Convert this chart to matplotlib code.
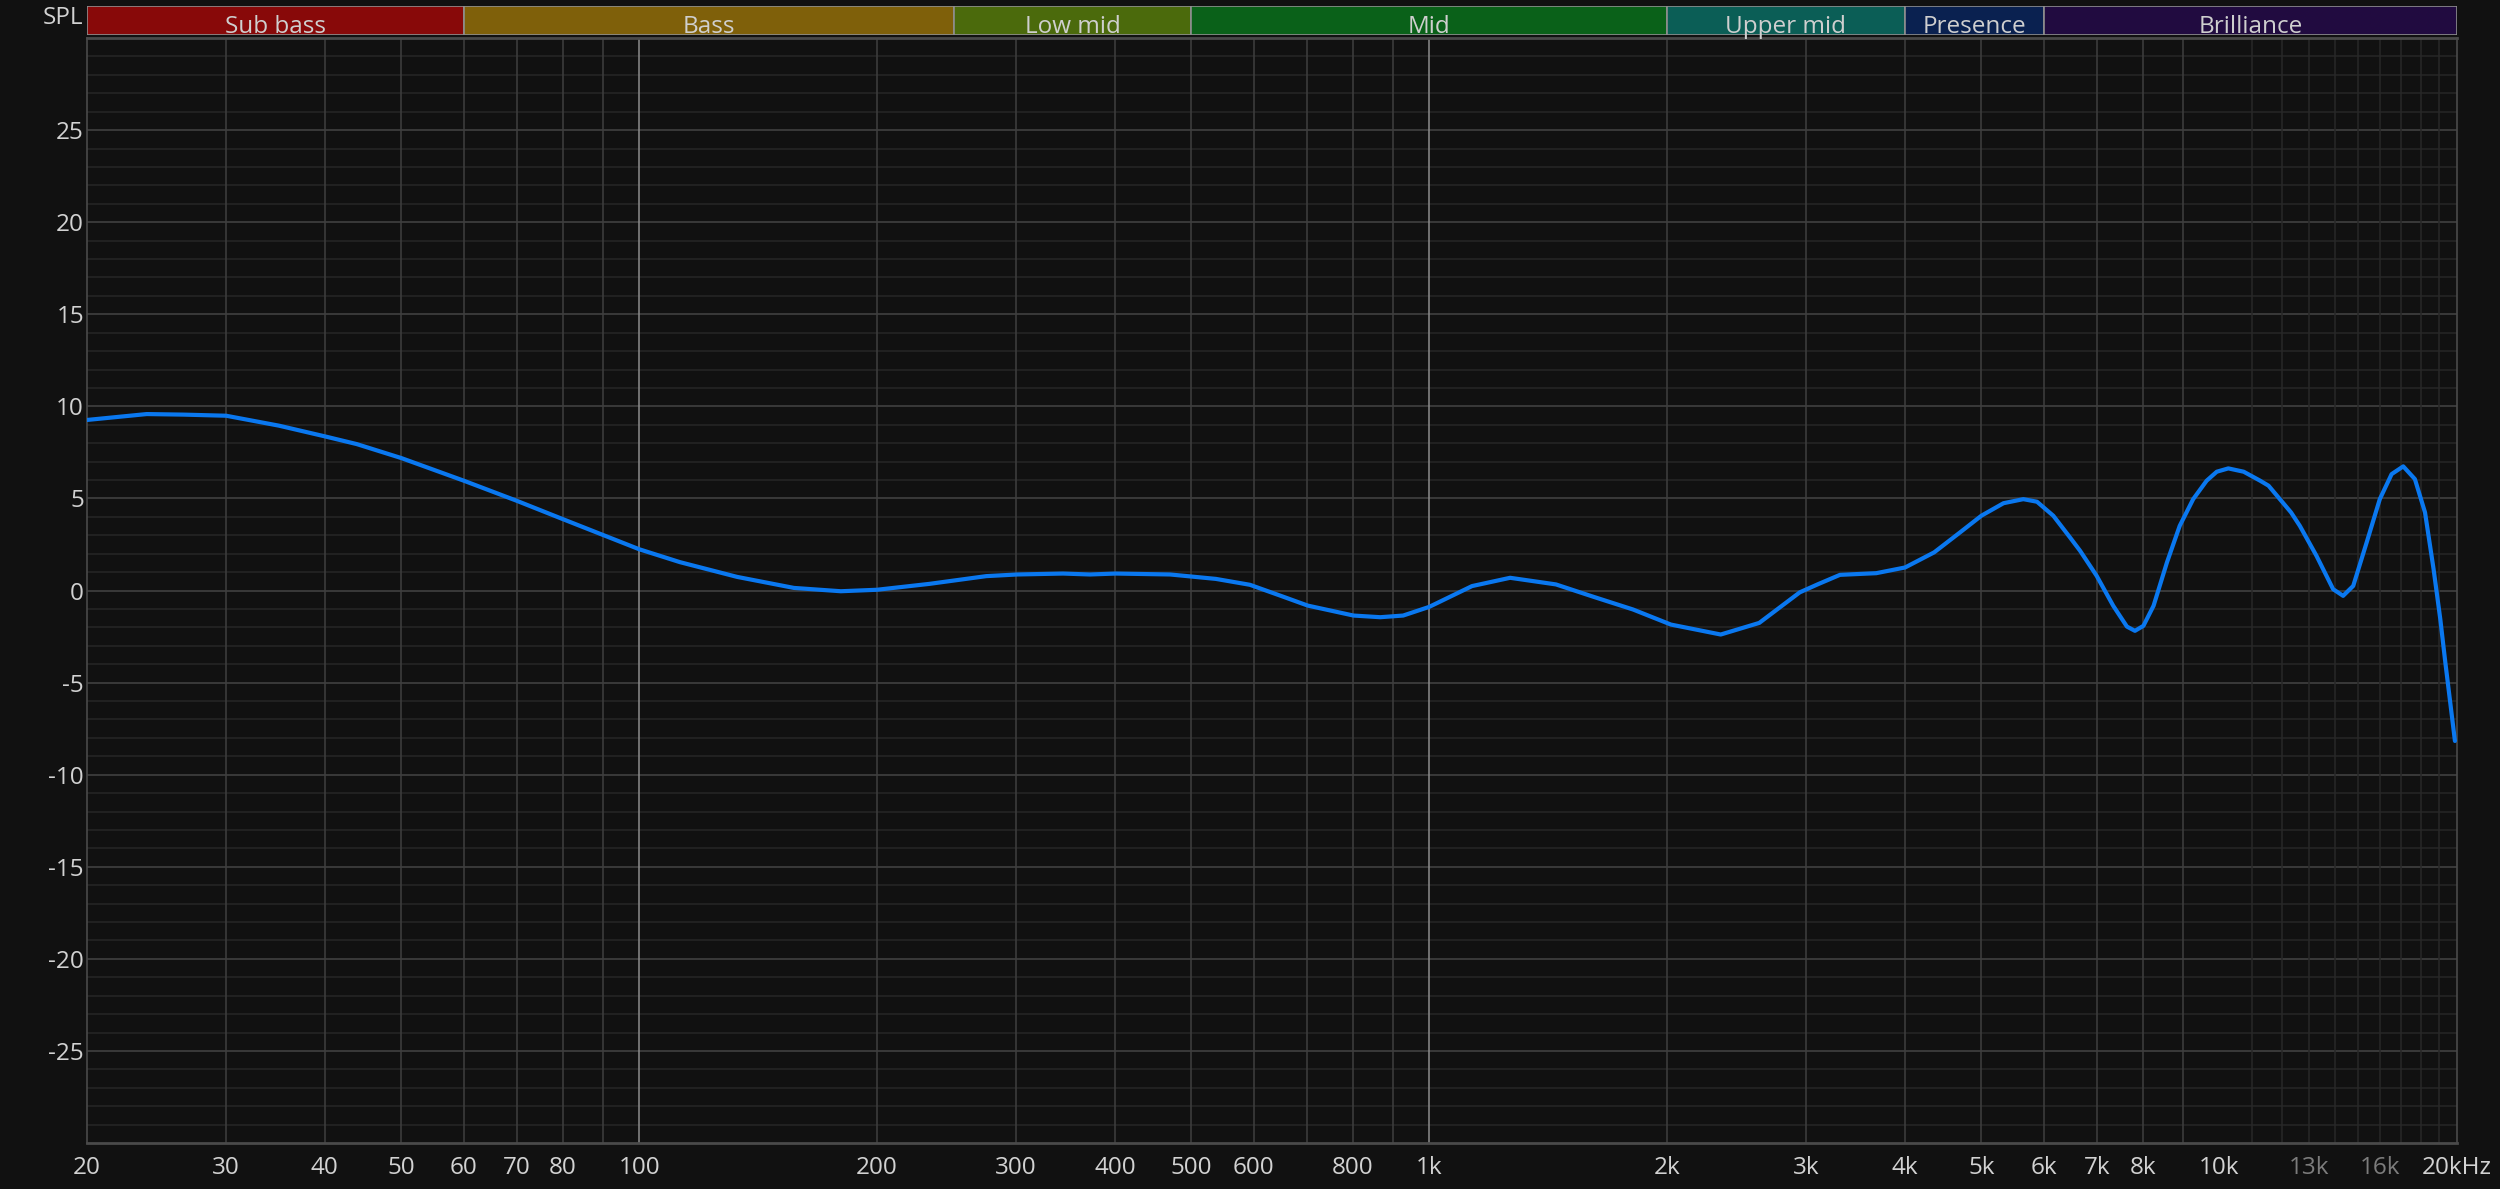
import matplotlib
matplotlib.use("Agg")
import matplotlib.pyplot as plt
import numpy as np

# ---------------- data ----------------
freq_hz = [20, 23.8, 26.5, 30, 35, 40, 43.9, 50, 60, 70, 80, 100, 112.6, 133, 157, 180,
           200, 233, 275, 301, 344, 372, 401, 470, 537, 593, 647, 702, 802, 867, 927,
           1000, 1133, 1266, 1447, 1619, 1811, 2023, 2339, 2617, 2945, 3105, 3311,
           3680, 4003, 4357, 4697, 5000, 5333, 5650, 5880, 6166, 6474, 6666, 6996,
           7343, 7642, 7823, 8018, 8259, 8587, 8913, 9270, 9640, 9930, 10270, 10740,
           11270, 11548, 12330, 12650, 13280, 13940, 14350, 14780, 15370, 15970,
           16530, 17100, 17690, 18220, 18680, 19050, 19330, 19880]
spl_db = [9.26, 9.58, 9.55, 9.49, 8.95, 8.37, 7.95, 7.19, 5.96, 4.87, 3.88, 2.24, 1.54,
          0.74, 0.14, -0.04, 0.04, 0.36, 0.78, 0.87, 0.92, 0.87, 0.92, 0.87, 0.63,
          0.31, -0.27, -0.82, -1.36, -1.45, -1.36, -0.89, 0.24, 0.69, 0.33, -0.36,
          -1.03, -1.85, -2.39, -1.76, -0.10, 0.34, 0.85, 0.94, 1.25, 2.07, 3.15, 4.06,
          4.74, 4.96, 4.82, 4.06, 2.88, 2.16, 0.80, -0.83, -1.96, -2.19, -1.92, -0.83,
          1.52, 3.51, 4.96, 5.96, 6.45, 6.63, 6.45, 5.96, 5.69, 4.24, 3.51, 1.88, 0.07,
          -0.29, 0.25, 2.61, 4.96, 6.32, 6.74, 6.05, 4.24, 1.16, -1.56, -3.90, -8.17]

band_names = ["Sub bass", "Bass", "Low mid", "Mid", "Upper mid", "Presence", "Brilliance"]
band_edges = [20, 60, 250, 500, 2000, 4000, 6000, 20000]
band_colors = ["#880909", "#7f600a", "#4b6a0c", "#0a6119", "#0b5e56", "#0a2150", "#210b40"]

xtick_vals = [20, 30, 40, 50, 60, 70, 80, 100, 200, 300, 400, 500, 600, 800,
              1000, 2000, 3000, 4000, 5000, 6000, 7000, 8000, 10000, 13000, 16000, 20000]
xtick_labels = ["20", "30", "40", "50", "60", "70", "80", "100", "200", "300", "400",
                "500", "600", "800", "1k", "2k", "3k", "4k", "5k", "6k", "7k", "8k",
                "10k", "13k", "16k", "20kHz"]
dim_labels = ["13k", "16k"]
ytick_vals = [-25, -20, -15, -10, -5, 0, 5, 10, 15, 20, 25]

# ---------------- style ----------------
BG = "#111111"
TXT = "#d2d2d2"
FONT = ["Open Sans", "DejaVu Sans"]
FS = 17.5
plt.rcParams["font.family"] = FONT

W, H = 2500, 1189
fig = plt.figure(figsize=(W / 100, H / 100), dpi=100, facecolor=BG)

L, R, T, B = 87, 2457, 38, 1143
ax = fig.add_axes([L / W, (H - B) / H, (R - L) / W, (B - T) / H])
ax.set_facecolor(BG)
ax.set_xscale("log")
ax.set_xlim(20, 20000)
ax.set_ylim(-30, 30)

# horizontal grid
for v in range(-29, 30):
    major = (v % 5 == 0)
    ax.axhline(v, color="#3d3d3d" if major else "#262626", lw=1.3 if major else 1.1, zorder=1)

# vertical grid
vgrid = []
for dec in [10, 100, 1000]:
    for m in range(1, 10):
        f = m * dec
        if 20 < f <= 10000:
            vgrid.append(f)
for f in vgrid:
    if f in (100, 1000, 10000):
        ax.axvline(f, color="#8c8c8c", lw=1.1, zorder=2)
    else:
        ax.axvline(f, color="#3f3f3f", lw=1.1, zorder=1)
for m in range(11, 20):
    ax.axvline(m * 1000, color="#282828", lw=1.1, zorder=1)

ax.plot(freq_hz, spl_db, color="#0a78f0", lw=3.0, solid_joinstyle="round",
        solid_capstyle="round", zorder=5)

ax.set_xticks(xtick_vals)
ax.set_xticklabels(xtick_labels)
ax.xaxis.set_minor_locator(matplotlib.ticker.NullLocator())
ax.set_yticks(ytick_vals)
ax.set_yticklabels([str(v) for v in ytick_vals])
ax.tick_params(axis="x", length=0, pad=9, labelsize=FS, labelcolor=TXT)
ax.tick_params(axis="y", length=0, pad=2.2, labelsize=FS, labelcolor=TXT)
for lab in ax.get_xticklabels():
    if lab.get_text() in dim_labels:
        lab.set_color("#7c7c7c")

for side in ["left", "right"]:
    ax.spines[side].set_color("#4a4a4a")
    ax.spines[side].set_linewidth(1.2)
for side in ["top", "bottom"]:
    ax.spines[side].set_color("#4a4a4a")
    ax.spines[side].set_linewidth(2.0)

# ---------------- band strip ----------------
BT, BB = 6, 35
bax = fig.add_axes([L / W, (H - BB) / H, (R - L) / W, (BB - BT) / H])
bax.set_xscale("log")
bax.set_xlim(20, 20000)
bax.set_ylim(0, 1)
bax.set_facecolor(BG)
bax.axis("off")
for i, name in enumerate(band_names):
    lo, hi = band_edges[i], band_edges[i + 1]
    bax.axvspan(lo, hi, 0, 1, facecolor=band_colors[i], edgecolor="#8e8e8e", lw=1.2)
    bax.text(np.sqrt(lo * hi), 0.07, name, ha="center", va="baseline",
             color="#cfcfcf", fontsize=FS)

fig.text(83 / W, (H - 24) / H, "SPL", ha="right", va="baseline", color=TXT, fontsize=FS)

fig.savefig("out.png", dpi=100, facecolor=BG)
